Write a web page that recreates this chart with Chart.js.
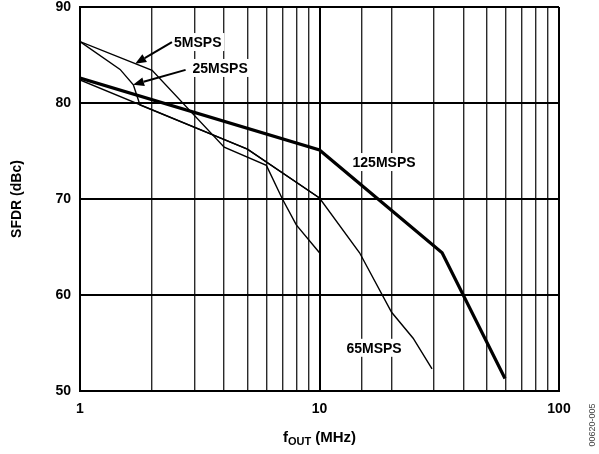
<!DOCTYPE html>
<html>
<head>
<meta charset="utf-8">
<script src="https://cdn.jsdelivr.net/npm/chart.js@4/dist/chart.umd.min.js"></script>
<style>
  html, body { margin: 0; padding: 0; background: #fff; }
  #c { display: block; }
</style>
</head>
<body>
<canvas id="c" width="599" height="454"></canvas>
<script>
// ---- Data ----
const seriesNames = ["5MSPS", "25MSPS", "65MSPS", "125MSPS"];

const freq5   = [1, 2, 4, 6, 7, 8, 10];
const sfdr5   = [86.4, 83.4, 75.4, 73.5, 70.0, 67.3, 64.4];

const freq25  = [1, 1.47, 1.67, 1.78, 5, 10];
const sfdr25  = [86.4, 83.5, 81.9, 79.8, 75.2, 70.1];

const freq65  = [1, 5, 10, 14.7, 20, 24.6, 29.5];
const sfdr65  = [82.4, 75.2, 70.1, 64.4, 58.2, 55.5, 52.3];

const freq125 = [1, 10, 32.5, 59.5];
const sfdr125 = [82.6, 75.1, 64.4, 51.3];

const yTicks = [50, 60, 70, 80, 90];
const xTickLabels = [1, 10, 100];

const yTitle = "SFDR (dBc)";
const xTitleMain = "f";
const xTitleSub = "OUT";
const xTitleRest = " (MHz)";
const figId = "00620-005";

function pts(xs, ys) { return xs.map((x, i) => ({ x: x, y: ys[i] })); }

const FONT = "Arial, 'Liberation Sans', Helvetica, sans-serif";

// label anchors in data space
const labels = [
  { text: "5MSPS",   x: 2.47, y: 86.35, align: "left" },
  { text: "25MSPS",  x: 2.95, y: 83.65, align: "left" },
  { text: "125MSPS", x: 18.6, y: 73.85, align: "center" },
  { text: "65MSPS",  x: 16.9, y: 54.5,  align: "center" }
];
const arrows = [
  { from: { x: 2.42, y: 86.35 }, to: { x: 1.70, y: 84.1 } },
  { from: { x: 2.76, y: 83.45 }, to: { x: 1.665, y: 81.9 } }
];

const annot = {
  id: "annot",
  afterDatasetsDraw(chart) {
    const ctx = chart.ctx;
    const xs = chart.scales.x, ys = chart.scales.y;
    ctx.save();
    ctx.font = "bold 14px " + FONT;
    ctx.textBaseline = "middle";
    labels.forEach(l => {
      const px = xs.getPixelForValue(l.x), py = ys.getPixelForValue(l.y);
      const w = ctx.measureText(l.text).width;
      let left = l.align === "center" ? px - w / 2 : px;
      ctx.fillStyle = "#fff";
      ctx.fillRect(left - 3, py - 9, w + 6, 18);
      ctx.fillStyle = "#000";
      ctx.textAlign = "left";
      ctx.fillText(l.text, left, py + 1);
    });
    arrows.forEach(a => {
      const x1 = xs.getPixelForValue(a.from.x), y1 = ys.getPixelForValue(a.from.y);
      const x2 = xs.getPixelForValue(a.to.x), y2 = ys.getPixelForValue(a.to.y);
      const ang = Math.atan2(y2 - y1, x2 - x1);
      const hl = 11, hw = 4.5;
      const bx = x2 - hl * Math.cos(ang), by = y2 - hl * Math.sin(ang);
      ctx.strokeStyle = "#000";
      ctx.lineWidth = 2;
      ctx.beginPath();
      ctx.moveTo(x1, y1);
      ctx.lineTo(bx, by);
      ctx.stroke();
      ctx.fillStyle = "#000";
      ctx.beginPath();
      ctx.moveTo(x2, y2);
      ctx.lineTo(bx + hw * Math.sin(ang), by - hw * Math.cos(ang));
      ctx.lineTo(bx - hw * Math.sin(ang), by + hw * Math.cos(ang));
      ctx.closePath();
      ctx.fill();
    });
    const ca = chart.chartArea;
    ctx.save();
    ctx.translate(17, (ca.top + ca.bottom) / 2);
    ctx.rotate(-Math.PI / 2);
    ctx.font = "bold 14px " + FONT;
    ctx.textAlign = "center";
    ctx.textBaseline = "middle";
    ctx.fillStyle = "#000";
    ctx.fillText(yTitle, 0, 0);
    ctx.restore();
    const fMain = "bold 15px " + FONT, fSub = "bold 11px " + FONT;
    ctx.font = fMain; const w1 = ctx.measureText(xTitleMain).width;
    ctx.font = fSub;  const w2 = ctx.measureText(xTitleSub).width;
    ctx.font = fMain; const w3 = ctx.measureText(xTitleRest).width;
    const total = w1 + w2 + w3;
    let tx = (ca.left + ca.right) / 2 - total / 2;
    const base = 442;
    ctx.fillStyle = "#000";
    ctx.textAlign = "left";
    ctx.textBaseline = "alphabetic";
    ctx.font = fMain; ctx.fillText(xTitleMain, tx, base); tx += w1;
    ctx.font = fSub;  ctx.fillText(xTitleSub, tx, base + 3); tx += w2;
    ctx.font = fMain; ctx.fillText(xTitleRest, tx, base);
    ctx.save();
    ctx.translate(593, 425);
    ctx.rotate(-Math.PI / 2);
    ctx.font = "9px " + FONT;
    ctx.fillStyle = "#444";
    ctx.textAlign = "center";
    ctx.textBaseline = "middle";
    ctx.fillText(figId, 0, 0);
    ctx.restore();
    ctx.restore();
  }
};

const isDecade = v => Math.abs(Math.log10(v) - Math.round(Math.log10(v))) < 1e-9;

const chart = new Chart(document.getElementById("c"), {
  type: "line",
  data: {
    datasets: [
      { label: seriesNames[0], data: pts(freq5, sfdr5),   borderWidth: 1.4 },
      { label: seriesNames[1], data: pts(freq25, sfdr25), borderWidth: 1.4 },
      { label: seriesNames[2], data: pts(freq65, sfdr65), borderWidth: 1.4 },
      { label: seriesNames[3], data: pts(freq125, sfdr125), borderWidth: 3.2 }
    ].map(d => Object.assign(d, { borderColor: "#000", backgroundColor: "#000", pointRadius: 0, tension: 0, fill: false }))
  },
  options: {
    responsive: false,
    animation: false,
    devicePixelRatio: 1,
    layout: { padding: { top: 0, right: 40, left: 0, bottom: 0 } },
    plugins: { legend: { display: false }, tooltip: { enabled: false } },
    scales: {
      x: {
        type: "logarithmic",
        min: 1, max: 100,
        afterFit(s) { s.height = 63; s.paddingLeft = 0; s.paddingRight = 0; },
        border: { display: true, color: "#000", width: 2 },
        grid: {
          drawTicks: false,
          color: ctx => (ctx.tick && isDecade(ctx.tick.value)) ? "#000" : "#2a2a2a",
          lineWidth: ctx => (ctx.tick && isDecade(ctx.tick.value)) ? 2 : 1.4
        },
        ticks: {
          padding: 11,
          color: "#000",
          font: { family: FONT, size: 14, weight: "bold", lineHeight: 1 },
          autoSkip: false,
          maxRotation: 0,
          callback: (v) => xTickLabels.includes(v) ? String(v) : ""
        }
      },
      y: {
        type: "linear",
        min: yTicks[0], max: yTicks[yTicks.length - 1],
        afterFit(s) { s.width = 80; s.paddingTop = 7; s.paddingBottom = 0; },
        afterBuildTicks(s) { s.ticks = yTicks.map(v => ({ value: v })); },
        border: { display: true, color: "#000", width: 2 },
        grid: { drawTicks: false, color: "#000", lineWidth: 2 },
        ticks: {
          padding: 9,
          color: "#000",
          font: { family: FONT, size: 14, weight: "bold", lineHeight: 1 }
        }
      }
    }
  },
  plugins: [annot]
});
</script>
</body>
</html>
